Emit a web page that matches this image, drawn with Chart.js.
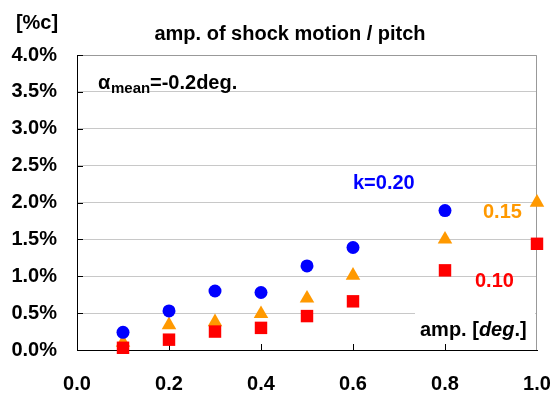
<!DOCTYPE html>
<html>
<head>
<meta charset="utf-8">
<script src="https://cdn.jsdelivr.net/npm/chart.js@4"></script>
<style>
  body { margin: 0; background: #fff; }
  #myChart { display: block; }
</style>
</head>
<body>
<canvas id="myChart" width="551" height="397"></canvas>
<script>
const FONT = "'Liberation Sans', Arial, sans-serif";

// amplitude [deg]
const ampK020 = [0.1, 0.2, 0.3, 0.4, 0.5, 0.6, 0.8];
const ampOther = [0.1, 0.2, 0.3, 0.4, 0.5, 0.6, 0.8, 1.0];

// shock motion amplitude / pitch [%c]
const k020 = [0.24, 0.53, 0.80, 0.78, 1.14, 1.39, 1.89];
const k015 = [0.10, 0.34, 0.38, 0.49, 0.70, 1.01, 1.50, 2.00];
const k010 = [0.03, 0.14, 0.25, 0.30, 0.46, 0.66, 1.08, 1.44];

const xTicks = [0, 0.2, 0.4, 0.6, 0.8, 1.0];
const yTicks = [0, 0.5, 1.0, 1.5, 2.0, 2.5, 3.0, 3.5, 4.0];

const toPoints = (xs, ys) => ys.map((y, i) => ({ x: xs[i], y: y }));

const ctx = document.getElementById("myChart").getContext("2d");

const extras = {
	id: "extras",
	beforeDatasetsDraw(chart) {
		const c = chart.ctx;
		const a = chart.chartArea;
		const xs = chart.scales.x;
		const ys = chart.scales.y;
		c.save();
		// white box behind axis caption
		c.fillStyle = "#fff";
		c.fillRect(415, 313, 120, 34);
		// top / right frame
		c.strokeStyle = "#999";
		c.lineWidth = 1;
		c.beginPath();
		c.moveTo(a.left, a.top + 0.5);
		c.lineTo(a.right - 0.5, a.top + 0.5);
		c.lineTo(a.right - 0.5, a.bottom);
		c.stroke();
		// inside tick marks
		c.strokeStyle = "#000";
		c.beginPath();
		xTicks.slice(1, -1).forEach((v) => {
			const px = Math.round(xs.getPixelForValue(v)) + 0.5;
			c.moveTo(px, a.bottom);
			c.lineTo(px, a.bottom - 6);
		});
		yTicks.slice(1).forEach((v) => {
			const py = Math.round(ys.getPixelForValue(v)) + 0.5;
			c.moveTo(a.left, py);
			c.lineTo(a.left + 6, py);
		});
		c.stroke();
		c.restore();
	},
	afterDraw(chart) {
		const c = chart.ctx;
		c.save();
		c.textBaseline = "alphabetic";
		c.fillStyle = "#000";
		c.font = `bold 20px ${FONT}`;
		c.textAlign = "center";
		c.fillText("[%c]", 37, 29);
		c.fillText("amp. of shock motion / pitch", 290, 40);
		c.textAlign = "left";
		// alpha mean label
		c.fillText("\u03b1", 98, 89);
		c.font = `bold 15px ${FONT}`;
		c.fillText("mean", 111, 93);
		c.font = `bold 20px ${FONT}`;
		c.fillText("=-0.2deg.", 150, 89);
		// series labels
		c.fillStyle = "#0000ff";
		c.fillText("k=0.20", 353, 189);
		c.fillStyle = "#ff9900";
		c.fillText("0.15", 483, 218);
		c.fillStyle = "#ff0000";
		c.fillText("0.10", 475, 287);
		// x axis caption
		c.fillStyle = "#000";
		let x = 420;
		const parts = [["amp. [", "bold"], ["deg", "italic bold"], [".]", "bold"]];
		parts.forEach(([t, f]) => {
			c.font = `${f} 20px ${FONT}`;
			c.fillText(t, x, 336);
			x += c.measureText(t).width;
		});
		c.restore();
	},
};

const myChart = new Chart(ctx, {
	type: "scatter",
	data: {
		datasets: [
			{
				label: "k=0.20",
				data: toPoints(ampK020, k020),
				pointStyle: "circle",
				pointRadius: 6.5,
				backgroundColor: "#0000ff",
				borderWidth: 0,
				order: 0,
				clip: false,
			},
			{
				label: "k=0.10",
				data: toPoints(ampOther, k010),
				pointStyle: "rect",
				pointRadius: 8.8,
				backgroundColor: "#ff0000",
				borderWidth: 0,
				order: 1,
				clip: false,
			},
			{
				label: "k=0.15",
				data: toPoints(ampOther, k015),
				pointStyle: "triangle",
				pointRadius: 8.4,
				backgroundColor: "#ff9900",
				borderWidth: 0,
				order: 2,
				clip: false,
			},
		],
	},
	plugins: [extras],
	options: {
		responsive: false,
		animation: false,
		layout: { padding: { left: 0, right: 14, top: 55, bottom: 0 } },
		plugins: {
			legend: { display: false },
			tooltip: { enabled: false },
			title: { display: false },
		},
		elements: { point: { hoverRadius: 0 } },
		scales: {
			x: {
				type: "linear",
				min: 0,
				max: 1,
				afterFit: (s) => {
					s.height = 47;
					s.paddingLeft = 0;
					s.paddingRight = 0;
				},
				afterBuildTicks: (s) => { s.ticks = xTicks.map((v) => ({ value: v })); },
				grid: { display: false, drawTicks: false },
				border: { display: true, color: "#000", width: 1 },
				ticks: {
					padding: 22,
					color: "#000",
					font: { family: FONT, size: 20, weight: "bold" },
					callback: (v) => v.toFixed(1),
				},
			},
			y: {
				type: "linear",
				min: 0,
				max: 4,
				afterFit: (s) => {
					s.width = 77;
					s.paddingTop = 0;
					s.paddingBottom = 0;
				},
				afterBuildTicks: (s) => { s.ticks = yTicks.map((v) => ({ value: v })); },
				grid: { color: "#c8c8c8", drawTicks: false },
				border: { display: true, color: "#000", width: 1 },
				ticks: {
					padding: 20,
					color: "#000",
					font: { family: FONT, size: 20, weight: "bold" },
					callback: (v) => v.toFixed(1) + "%",
				},
			},
		},
	},
});
</script>
</body>
</html>
